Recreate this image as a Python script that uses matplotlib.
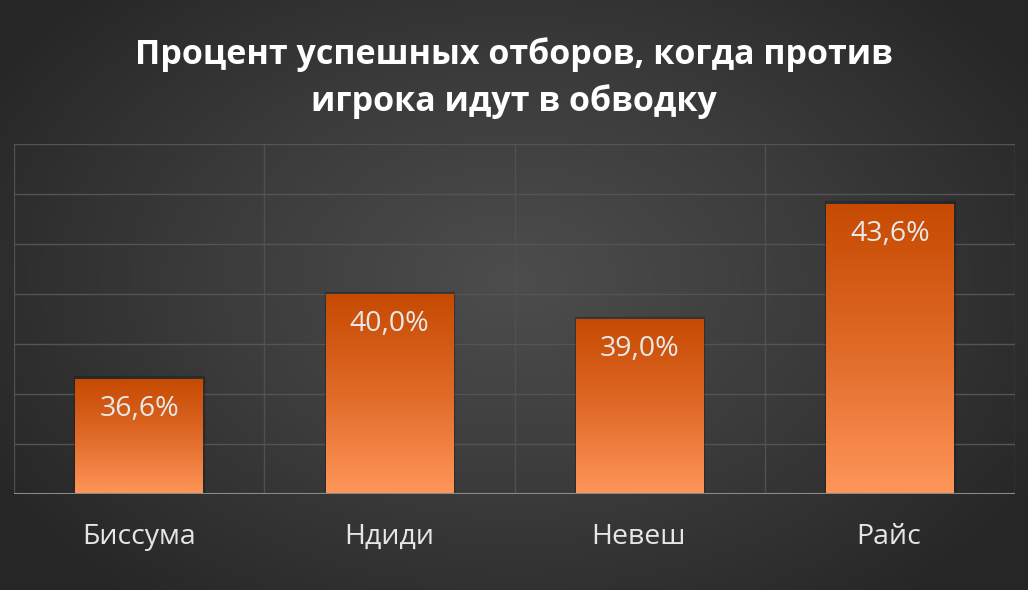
import numpy as np
import matplotlib.pyplot as plt
from matplotlib.colors import LinearSegmentedColormap
from matplotlib.patches import Rectangle

# данные
players = ['Биссума', 'Ндиди', 'Невеш', 'Райс']
success_pct = [36.6, 40.0, 39.0, 43.6]
value_labels = ['36,6%', '40,0%', '39,0%', '43,6%']
title = 'Процент успешных отборов, когда против\nигрока идут в обводку'

plt.rcParams['font.family'] = ['Open Sans', 'DejaVu Sans']

fig = plt.figure(figsize=(10.28, 5.90), dpi=100)

# фон - радиальный градиент
bg = fig.add_axes([0, 0, 1, 1])
bg.set_axis_off()
yy, xx = np.mgrid[0:590, 0:1028]
r = np.sqrt(((xx - 514) / 620.0) ** 2 + ((yy - 280) / 420.0) ** 2)
bg_cmap = LinearSegmentedColormap.from_list('bg', ['#4d4d4d', '#3b3b3b', '#262626'])
bg.imshow(np.clip(r, 0, 1), cmap=bg_cmap, vmin=0, vmax=1, aspect='auto')

ax = fig.add_axes([14 / 1028, 1 - 494 / 590, 1001 / 1028, 350 / 590])
ax.patch.set_alpha(0)
ax.set_yticks(np.arange(32, 47, 2))
ax.grid(True, axis='y', color='#545454', linewidth=1)
for xv in [-0.5, 0.5, 1.5, 2.5, 3.5]:
    ax.axvline(xv, color='#505050', linewidth=1, zorder=0.5)
ax.set_axisbelow(True)
for s in ax.spines.values():
    s.set_visible(False)
ax.axhline(32, color='#8a8a8a', linewidth=1.5, zorder=5)
ax.tick_params(axis='y', left=False, labelleft=False)
ax.tick_params(axis='x', which='both', bottom=False, labelbottom=False)

bar_cmap = LinearSegmentedColormap.from_list('bar', ['#c64a02', '#e06a28', '#ff965a'])
bars = ax.bar(range(len(players)), success_pct, width=0.51, bottom=0, color='none', zorder=3)
grad = np.linspace(0, 1, 256).reshape(-1, 1)
for b in bars:
    x0, w, h = b.get_x(), b.get_width(), b.get_height()
    # тень
    ax.add_patch(Rectangle((x0 - 0.004, 32), w + 0.008, h - 32 + 0.1, color='#151515', alpha=0.25, zorder=2))
    im = ax.imshow(grad, cmap=bar_cmap, extent=(x0, x0 + w, 32, h), aspect='auto', zorder=3)
    im.set_clip_path(b)
ax.set_xlim(-0.5, 3.5)
ax.set_ylim(32, 46)

for i, (v, lab) in enumerate(zip(success_pct, value_labels)):
    ax.text(i, v - 1.2, lab, ha='center', va='center', fontsize=20.5, color='#e8e8e8', zorder=6)

for i, p in enumerate(players):
    fig.text((14 + 250 * i + 125) / 1028, 1 - 537 / 590, p, ha='center', va='center',
             fontsize=20.5, color='#e6e6e6')

fig.text(0.5, 1 - 78 / 590, title, ha='center', va='center', fontsize=24.5,
         fontweight='bold', color='white', linespacing=1.45)

fig.savefig('out.png', dpi=100)
